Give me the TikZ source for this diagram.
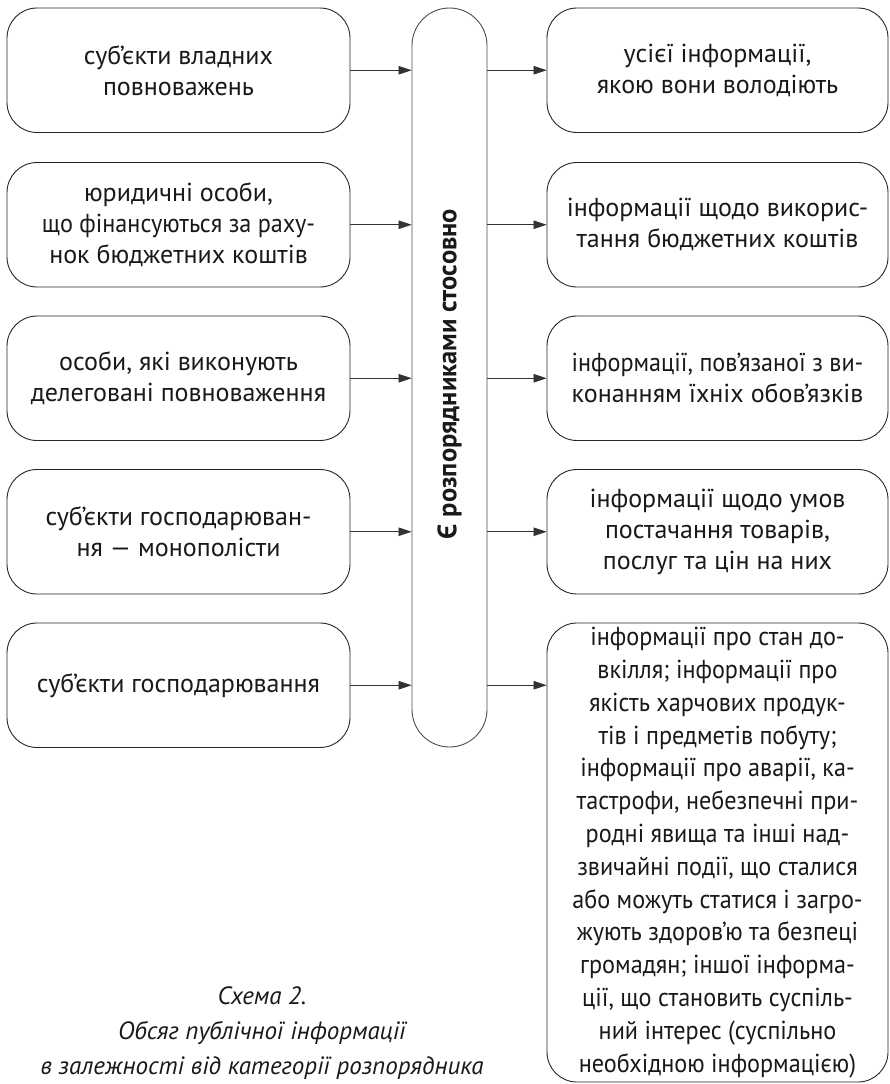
\documentclass[tikz,border=0pt]{standalone}
\usepackage{fontspec}
\setmainfont{PT Sans}
\newfontfamily\narrowfont[FakeStretch=0.93]{PT Sans}
\usetikzlibrary{arrows.meta}
\tikzset{
  box/.style={draw=black!85, line width=0.9pt, rounded corners=30pt, inner sep=0pt,
    align=center, font=\fontsize{26}{31}\selectfont, text=black!90},
  lbox/.style={box, minimum width=343pt, minimum height=124.5pt},
  rbox/.style={box, minimum width=341pt, minimum height=124.5pt},
  bar/.style={draw=black!70, line width=0.9pt, rounded corners=37.5pt, inner sep=0pt,
    minimum width=75pt, minimum height=739pt},
  conn/.style={draw=black!80, line width=0.8pt, -{Triangle[length=13pt,width=8.5pt]}},
  captionstyle/.style={font=\fontsize{25}{35}\selectfont\itshape, align=center, text=black!90}
}
\begin{document}
\begin{tikzpicture}[x=1pt,y=-1pt]
\useasboundingbox (0,0) rectangle (890,1084);
% left column
\node[lbox] (l1) at (178.5,70.25) {суб’єкти владних\\повноважень};
\node[lbox] (l2) at (178.5,224.75) {юридичні особи,\\{\narrowfont що фінансуються за раху-}\\нок бюджетних коштів};
\node[lbox] (l3) at (178.5,378.25) {особи, які виконують\\делеговані повноваження};
\node[lbox] (l4) at (178.5,531.75) {суб’єкти господарюван-\\ня — монополісти};
\node[lbox] (l5) at (178.5,685.25) {суб’єкти господарювання};
% central bar
\node[bar] (bar) at (449.5,377.5) {};
\node[rotate=90, font=\fontsize{26.5}{30}\selectfont\bfseries, text=black!90] (bartext) at (449.5,374) {Є розпорядниками стосовно};
% right column
\node[rbox] (r1) at (717.5,70.25) {усієї інформації,\\якою вони володіють};
\node[rbox] (r2) at (717.5,224.75) {інформації щодо викорис-\\тання бюджетних коштів};
\node[rbox] (r3) at (717.5,378.25) {{\narrowfont інформації, пов’язаної з ви-}\\конанням їхніх обов’язків};
\node[rbox] (r4) at (717.5,531.75) {інформації щодо умов\\постачання товарів,\\послуг та цін на них};
\node[box, minimum width=341pt, minimum height=459pt, font=\fontsize{26}{32.8}\selectfont\narrowfont] (r5) at (717.5,852.5)
  {інформації про стан до-\\вкілля; інформації про\\якість харчових продук-\\тів і предметів побуту;\\інформації про аварії, ка-\\тастрофи, небезпечні при-\\родні явища та інші над-\\звичайні події, що сталися\\або можуть статися і загро-\\жують здоров’ю та безпеці\\громадян; іншої інформа-\\ції, що становить суспіль-\\ний інтерес (суспільно\\необхідною інформацією)};
% connectors left -> bar
\foreach \i in {1,...,5} {
  \draw[conn] (l\i.east) -- (l\i.east -| bar.west);
}
% connectors bar -> right
\foreach \i in {1,...,4} {
  \draw[conn] (l\i.east -| bar.east) -- (r\i.west);
}
\draw[conn] (l5.east -| bar.east) -- (l5.east -| r5.west);
% caption
\node[captionstyle] (caption) at (262,1033) {Схема 2.\\Обсяг публічної інформації\\в залежності від категорії розпорядника};
\end{tikzpicture}
\end{document}
